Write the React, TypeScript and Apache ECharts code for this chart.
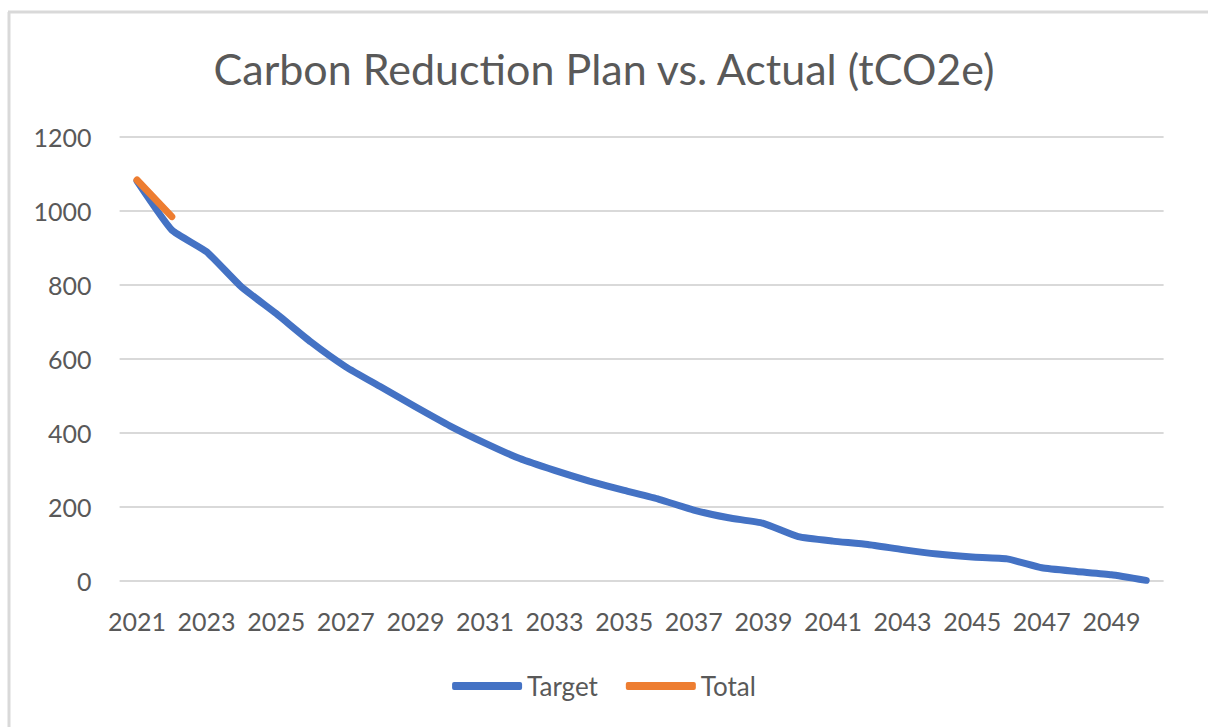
import React, { useEffect, useRef } from "react";
import * as echarts from "echarts";

const years: string[] = [
  "2021", "2022", "2023", "2024", "2025", "2026", "2027", "2028", "2029", "2030",
  "2031", "2032", "2033", "2034", "2035", "2036", "2037", "2038", "2039", "2040",
  "2041", "2042", "2043", "2044", "2045", "2046", "2047", "2048", "2049", "2050",
];
const target: number[] = [
  1080, 948, 889, 794, 722, 645, 578, 524, 470, 418,
  372, 330, 298, 269, 244, 220, 191, 170, 155, 119,
  107, 98, 84, 72, 64, 59, 35, 25, 16, 1,
];
const total: (number | null)[] = [1083, 984];
const yTicks = { min: 0, max: 1200, interval: 200 };
const titleText = "Carbon Reduction Plan vs. Actual (tCO2e)";

const FONT = "Lato, 'Open Sans', sans-serif";
const GREY = "#595959";

export default function App() {
  const ref = useRef<HTMLDivElement>(null);
  useEffect(() => {
    if (!ref.current) return;
    const chart = echarts.init(ref.current, null, { renderer: "svg" });
    chart.setOption({
      animation: false,
      backgroundColor: "#ffffff",
      title: {
        text: titleText,
        left: "center",
        top: 42,
        textStyle: { fontFamily: FONT, fontSize: 43, fontWeight: "normal", color: GREY },
      },
      graphic: [
        { type: "line", shape: { x1: 9, y1: 12, x2: 9, y2: 740 }, style: { stroke: "#d9d9d9", lineWidth: 3 } },
        { type: "line", shape: { x1: 8, y1: 12, x2: 1210, y2: 12 }, style: { stroke: "#d9d9d9", lineWidth: 3 } },
      ],
      legend: {
        bottom: 23,
        left: "center",
        itemWidth: 70,
        itemHeight: 8,
        itemGap: 28,
        icon: "roundRect",
        textStyle: { fontFamily: FONT, fontSize: 26, color: GREY },
        data: ["Target", "Total"],
      },
      grid: { left: 119.6, right: 44.4, top: 136.7, bottom: 146.3 },
      xAxis: {
        type: "category",
        data: years,
        boundaryGap: true,
        axisLine: { show: false },
        axisTick: { show: false },
        axisLabel: { interval: 1, fontFamily: FONT, fontSize: 25, color: GREY, margin: 28 },
        splitLine: { show: false },
      },
      yAxis: {
        type: "value",
        min: yTicks.min,
        max: yTicks.max,
        interval: yTicks.interval,
        axisLine: { show: false },
        axisTick: { show: false },
        axisLabel: {
          fontFamily: FONT,
          fontSize: 25,
          color: GREY,
          margin: 28,
          formatter: (v: number) => String(v),
        },
        splitLine: { lineStyle: { color: "#d9d9d9", width: 2 } },
      },
      series: [
        {
          name: "Target",
          type: "line",
          data: target,
          showSymbol: false,
          smooth: 0.15,
          lineStyle: { color: "#4472C4", width: 7, cap: "round", join: "round" },
          itemStyle: { color: "#4472C4" },
        },
        {
          name: "Total",
          type: "line",
          data: total,
          showSymbol: false,
          lineStyle: { color: "#ED7D31", width: 7, cap: "round", join: "round" },
          itemStyle: { color: "#ED7D31" },
        },
      ],
    });
    return () => chart.dispose();
  }, []);
  return (
    <div
      ref={ref}
      style={{ position: "fixed", left: 0, top: 0, width: 1208, height: 727, background: "#fff" }}
    />
  );
}
